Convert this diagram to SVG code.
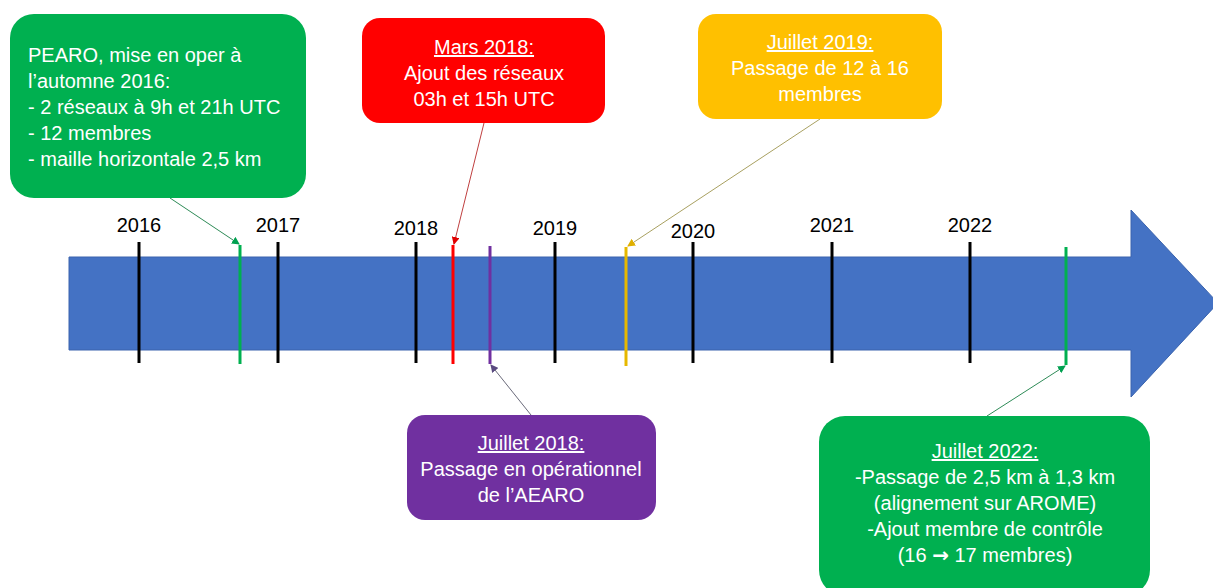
<svg xmlns="http://www.w3.org/2000/svg" width="1213" height="588" viewBox="0 0 1213 588">
<style>
.box text{font-family:"Liberation Sans",Arial,sans-serif;font-size:20px;fill:#ffffff}
.c{text-anchor:middle}
.u{text-decoration:underline}
.yr{font-family:"Liberation Sans",Arial,sans-serif;font-size:20px;fill:#000;text-anchor:middle}
.tick{stroke:#000;stroke-width:3}
.conn line{stroke-width:1}
</style>
<defs>
<marker id="mG" markerWidth="8" markerHeight="8" refX="7" refY="4" orient="auto" markerUnits="userSpaceOnUse"><path d="M0,0 L8,4 L0,8 z" fill="#00a050"/></marker>
<marker id="mR" markerWidth="8" markerHeight="8" refX="7" refY="4" orient="auto" markerUnits="userSpaceOnUse"><path d="M0,0 L8,4 L0,8 z" fill="#e00000"/></marker>
<marker id="mY" markerWidth="8" markerHeight="8" refX="7" refY="4" orient="auto" markerUnits="userSpaceOnUse"><path d="M0,0 L8,4 L0,8 z" fill="#e0b000"/></marker>
<marker id="mP" markerWidth="8" markerHeight="8" refX="7" refY="4" orient="auto" markerUnits="userSpaceOnUse"><path d="M0,0 L8,4 L0,8 z" fill="#5a4a80"/></marker>
</defs>
<rect width="1213" height="588" fill="#fff"/>
<g id="timeline">
<path d="M69,257 L1131,257 L1131,210 L1218,303 L1131,397 L1131,350 L69,350 Z" fill="#4472c4" stroke="#3a63ad" stroke-width="1"/>
<line class="tick" x1="139" y1="242" x2="139" y2="363"/>
<line class="tick" x1="278" y1="242" x2="278" y2="363"/>
<line class="tick" x1="416" y1="242" x2="416" y2="363"/>
<line class="tick" x1="555" y1="242" x2="555" y2="363"/>
<line class="tick" x1="693" y1="242" x2="693" y2="363"/>
<line class="tick" x1="832" y1="242" x2="832" y2="363"/>
<line class="tick" x1="970" y1="242" x2="970" y2="363"/>
<line x1="240" y1="245" x2="240" y2="364" stroke="#00b050" stroke-width="3"/>
<line x1="453" y1="245" x2="453" y2="364" stroke="#ff0000" stroke-width="3"/>
<line x1="490" y1="246" x2="490" y2="364" stroke="#7030a0" stroke-width="3"/>
<line x1="626" y1="247" x2="626" y2="366" stroke="#e6b800" stroke-width="3"/>
<line x1="1066" y1="247" x2="1066" y2="365" stroke="#00b050" stroke-width="3"/>
<text class="yr" x="139" y="232">2016</text>
<text class="yr" x="278" y="232">2017</text>
<text class="yr" x="416" y="235">2018</text>
<text class="yr" x="555" y="235">2019</text>
<text class="yr" x="693" y="238">2020</text>
<text class="yr" x="832" y="232">2021</text>
<text class="yr" x="970" y="232">2022</text>
</g>
<g id="connectors" class="conn">
<line x1="170" y1="198" x2="239" y2="244" stroke="#2e8b57" marker-end="url(#mG)"/>
<line x1="484" y1="123" x2="454" y2="244" stroke="#c04040" marker-end="url(#mR)"/>
<line x1="820" y1="119" x2="628" y2="246" stroke="#a8a060" marker-end="url(#mY)"/>
<line x1="531" y1="415" x2="491" y2="365" stroke="#6a6a7a" marker-end="url(#mP)"/>
<line x1="987" y1="416" x2="1065" y2="366" stroke="#2e8b57" marker-end="url(#mG)"/>
</g>
<g id="n2016" class="box">
<rect x="10" y="14" width="296" height="184" rx="24" fill="#00b050"/>
<text x="28" y="62">PEARO, mise en oper à</text>
<text x="28" y="88">l’automne 2016:</text>
<text x="28" y="114">- 2 réseaux à 9h et 21h UTC</text>
<text x="28" y="140">- 12 membres</text>
<text x="28" y="166">- maille horizontale 2,5 km</text>
</g>
<g id="nMars2018" class="box">
<rect x="362" y="18" width="243" height="105" rx="18" fill="#ff0000"/>
<text class="c u" x="484" y="54">Mars 2018:</text>
<text class="c" x="484" y="80">Ajout des réseaux</text>
<text class="c" x="484" y="106">03h et 15h UTC</text>
</g>
<g id="nJuil2019" class="box">
<rect x="698" y="14" width="244" height="105" rx="18" fill="#ffc000"/>
<text class="c u" x="820" y="49">Juillet 2019:</text>
<text class="c" x="820" y="75">Passage de 12 à 16</text>
<text class="c" x="820" y="101">membres</text>
</g>
<g id="nJuil2018" class="box">
<rect x="407" y="415" width="249" height="105" rx="18" fill="#7030a0"/>
<text class="c u" x="531" y="450">Juillet 2018:</text>
<text class="c" x="531" y="476">Passage en opérationnel</text>
<text class="c" x="531" y="502">de l’AEARO</text>
</g>
<g id="nJuil2022" class="box">
<rect x="819" y="416" width="331" height="180" rx="26" fill="#00b050"/>
<text class="c u" x="985" y="458">Juillet 2022:</text>
<text class="c" x="985" y="484">-Passage de 2,5 km à 1,3 km</text>
<text class="c" x="985" y="510">(alignement sur AROME)</text>
<text class="c" x="985" y="536">-Ajout membre de contrôle</text>
<text class="c" x="985" y="562">(16 <tspan font-family="'DejaVu Sans',sans-serif" font-weight="bold">→</tspan> 17 membres)</text>
</g>
</svg>
